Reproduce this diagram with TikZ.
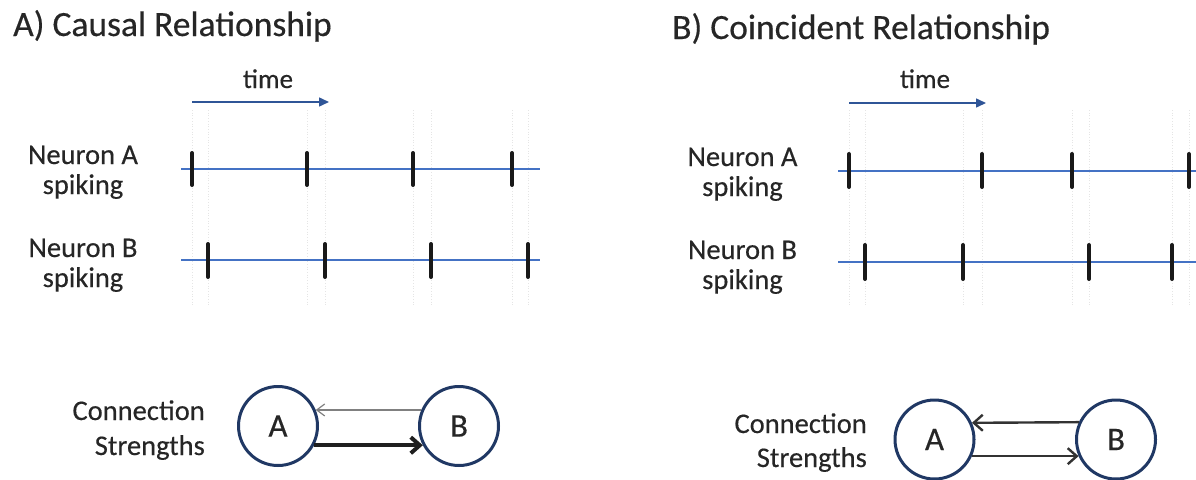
\documentclass[tikz,border=0pt]{standalone}
\usepackage{fontspec}
\setmainfont{Carlito}[FakeBold=0.35]
\usetikzlibrary{arrows.meta}
\definecolor{navy}{HTML}{203864}
\definecolor{lineblue}{HTML}{4472C4}
\definecolor{arrowblue}{HTML}{2F5597}
\definecolor{txt}{HTML}{262626}
\begin{document}
\begin{tikzpicture}[x=1pt,y=-1pt,
  title/.style={anchor=base west, font=\fontsize{35.5}{40}\selectfont, text=txt, inner sep=0},
  lbl/.style={anchor=base, font=\fontsize{28.5}{32}\selectfont, text=txt, inner sep=0},
  lblr/.style={anchor=base east, font=\fontsize{28.5}{32}\selectfont, text=txt, inner sep=0},
  timelbl/.style={anchor=base, font=\fontsize{27}{30}\selectfont, text=txt, inner sep=0},
  neuron/.style={circle, draw=navy, line width=3pt, minimum size=79pt, inner sep=0, font=\fontsize{33}{36}\selectfont, text=txt},
  trainline/.style={draw=lineblue, line width=1.4pt},
  spike/.style={draw=black!90, line width=4pt, line cap=round},
  guide/.style={draw=black!10, dotted, line width=0.7pt},
  timearrow/.style={draw=arrowblue, line width=1.5pt, -{Triangle[length=10pt,width=9pt]}},
  weak/.style={draw=black!50, line width=1.2pt, -{Straight Barb[length=8pt,width=12pt]}},
  strong/.style={draw=black!88, line width=4pt, -{Straight Barb[length=9pt,width=16pt]}},
  equal/.style={draw=black!80, line width=2.4pt, -{Straight Barb[length=9pt,width=16pt]}}
]
\useasboundingbox (0,0) rectangle (1196,479);

% ---------------- Panel A ----------------
\node[title] (titleA) at (13,36) {A) Causal Relationship};
\node[timelbl] (timeA) at (268,88) {time};
\coordinate (tAs) at (192,102);
\coordinate (tAe) at (329,102);
\draw[timearrow] (tAs) -- (tAe);

\foreach \x in {192,208,307,325,413,431,512,528}
  \draw[guide] (\x,110) -- (\x,305);

\node[lbl] (nAa1) at (83,164) {Neuron A};
\node[lbl] (nAa2) at (83,194) {spiking};
\node[lbl] (nAb1) at (83,257) {Neuron B};
\node[lbl] (nAb2) at (83,287) {spiking};

\coordinate (Aas) at (181,169);
\coordinate (Aae) at (540,169);
\draw[trainline] (Aas) -- (Aae);
\foreach \x in {192,307,413,512}
  \draw[spike] (\x,153) -- (\x,185);

\coordinate (Abs) at (181,260);
\coordinate (Abe) at (540,260);
\draw[trainline] (Abs) -- (Abe);
\foreach \x in {208,325,431,528}
  \draw[spike] (\x,244) -- (\x,277);

\node[lblr] (csA1) at (205,420) {Connection};
\node[lblr] (csA2) at (205,455) {Strengths};
\node[neuron] (cA) at (278,426) {A};
\node[neuron] (cB) at (459,426) {B};
\draw[weak] (cB.157) -- (cA.23);
\draw[strong] (cA.-28) -- (cB.208);

% ---------------- Panel B ----------------
\node[title] (titleB) at (672,39) {B) Coincident Relationship};
\node[timelbl] (timeB) at (925,88) {time};
\coordinate (tBs) at (849,103);
\coordinate (tBe) at (986,103);
\draw[timearrow] (tBs) -- (tBe);

\foreach \x in {849,865,963,982,1072,1089,1172,1189}
  \draw[guide] (\x,110) -- (\x,305);

\node[lbl] (nBa1) at (742.5,166) {Neuron A};
\node[lbl] (nBa2) at (742.5,196) {spiking};
\node[lbl] (nBb1) at (742.5,259) {Neuron B};
\node[lbl] (nBb2) at (742.5,289) {spiking};

\coordinate (Bas) at (838,171);
\coordinate (Bae) at (1196,171);
\draw[trainline] (Bas) -- (Bae);
\foreach \x in {849,982,1072,1189}
  \draw[spike] (\x,154) -- (\x,187);

\coordinate (Bbs) at (838,262);
\coordinate (Bbe) at (1196,262);
\draw[trainline] (Bbs) -- (Bbe);
\foreach \x in {865,963,1089,1172}
  \draw[spike] (\x,245) -- (\x,279);

\node[lblr] (csB1) at (867,433) {Connection};
\node[lblr] (csB2) at (867,467) {Strengths};
\node[neuron] (dA) at (934.5,439.5) {A};
\node[neuron] (dB) at (1116,439.5) {B};
\draw[equal] (dB.155.5) -- (dA.24.5);
\draw[equal] (dA.-24.5) -- (dB.204.5);
\end{tikzpicture}
\end{document}
